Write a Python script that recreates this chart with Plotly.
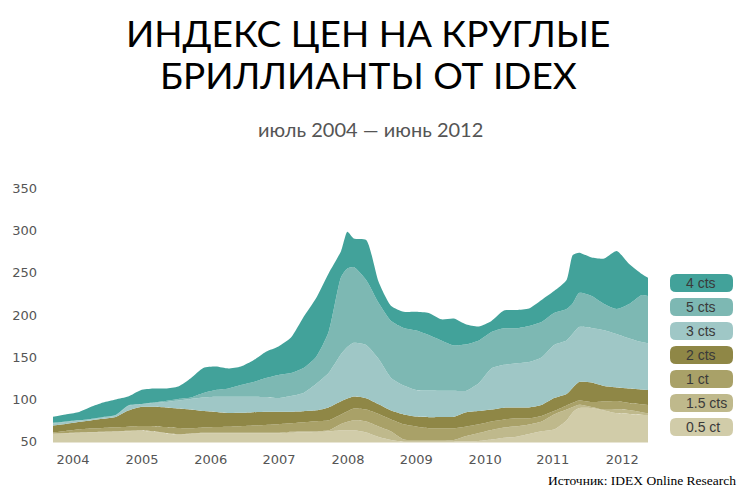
import plotly.graph_objects as go

# ---------------- DATA ----------------
# month index from July 2004 (0) to June 2012 (95)
months = [0, 2, 4, 6, 8, 10, 12, 14, 16, 18, 20, 22, 24, 26, 28, 30, 32, 34, 36, 38, 40, 42, 44, 46, 47,
          48, 50, 52, 54, 56, 58, 60, 62, 64, 66, 68, 70, 72, 74, 76, 78, 80, 82, 83, 84, 86, 88, 90, 92, 94, 95]

# upper edge of each stacked layer (index scale)
top_05ct = [59.1, 59.7, 60.3, 60.8, 61.2, 61.7, 62.3, 62.9, 61.7, 59.7, 58.2, 59.1, 59.9, 59.9, 59.9, 59.9, 59.9,
            59.9, 59.9, 60.5, 61.1, 61.6, 62.1, 63.5, 63.5, 63.5, 60.9, 55.6, 52.0, 50.0, 50.0, 50.0, 50.0, 50.0,
            50.1, 50.8, 52.5, 54.6, 55.9, 59.1, 62.3, 64.4, 75.1, 85.0, 89.9, 89.9, 86.9, 83.6, 82.8, 82.0, 81.6]
top_15cts = [59.7, 60.3, 60.9, 61.4, 61.8, 62.3, 62.9, 63.5, 62.3, 60.3, 58.8, 59.7, 60.5, 60.5, 60.5, 60.5, 60.5,
             60.5, 60.5, 61.7, 62.0, 62.3, 63.5, 71.0, 73.5, 75.3, 73.9, 68.0, 62.1, 52.6, 52.0, 52.0, 52.0, 52.0,
             56.7, 60.3, 63.9, 66.8, 68.2, 70.4, 73.9, 82.2, 88.1, 91.0, 93.7, 91.1, 87.8, 88.1, 87.5, 84.8, 83.6]
top_1ct = [60.9, 62.7, 64.4, 65.5, 66.2, 67.0, 67.8, 68.6, 68.4, 67.4, 66.2, 65.9, 66.8, 67.4, 67.8, 68.4, 69.2,
           69.9, 70.7, 71.7, 72.9, 74.1, 75.3, 82.2, 86.0, 89.3, 88.1, 82.8, 76.3, 70.6, 68.0, 66.0, 65.9, 65.9,
           68.0, 70.6, 73.9, 76.3, 77.7, 77.7, 80.4, 86.3, 92.9, 96.0, 98.8, 97.0, 97.6, 98.2, 95.8, 94.3, 93.5]
top_2cts = [69.2, 71.0, 73.3, 75.1, 77.1, 79.2, 86.9, 91.1, 91.3, 90.5, 89.3, 88.1, 86.3, 85.2, 84.0, 84.2, 84.9,
            85.5, 85.5, 85.5, 86.1, 87.1, 90.6, 97.8, 101.0, 103.5, 101.5, 94.2, 86.8, 82.2, 79.7, 79.0, 79.2, 79.6,
            84.9, 86.3, 88.1, 90.3, 90.6, 90.6, 93.5, 101.7, 106.5, 114.0, 120.7, 120.1, 115.9, 114.2, 113.0, 111.8, 111.2]
top_3cts = [71.5, 73.3, 75.1, 76.3, 78.7, 81.0, 92.3, 94.6, 95.8, 97.0, 98.8, 100.6, 102.3, 103.2, 103.3, 103.3, 103.3,
            102.9, 101.7, 104.1, 107.7, 118.3, 131.3, 153.8, 162.0, 167.1, 164.5, 147.9, 125.4, 116.5, 111.2, 110.6,
            110.4, 110.4, 110.4, 119.5, 136.7, 141.0, 142.9, 144.4, 149.7, 164.5, 169.8, 178.0, 185.8, 184.6, 182.0,
            177.5, 172.2, 168.0, 166.5]
top_5cts = [72.5, 73.9, 75.3, 76.9, 79.2, 81.6, 92.9, 94.6, 96.4, 98.2, 100.6, 102.3, 107.7, 111.2, 113.0, 117.1, 120.7,
            125.4, 129.0, 131.3, 137.3, 150.3, 179.9, 245.0, 255.0, 256.8, 241.5, 214.2, 192.9, 184.7, 181.7, 176.4,
            169.9, 164.0, 165.3, 169.9, 179.9, 184.3, 184.3, 187.0, 191.7, 202.4, 207.1, 214.0, 226.1, 222.5, 213.0,
            207.1, 213.0, 223.7, 222.5]
top_4cts = [79.6, 82.2, 84.8, 91.1, 96.4, 100.0, 103.5, 111.0, 112.9, 113.0, 115.4, 125.2, 137.3, 139.0, 136.7, 139.0, 146.4,
            156.6, 162.8, 173.3, 197.6, 219.8, 249.2, 275.9, 298.5, 290.7, 288.8, 239.1, 210.7, 203.9, 203.9, 202.4,
            194.9, 195.9, 188.8, 186.4, 192.9, 205.3, 205.9, 207.7, 217.8, 228.4, 241.5, 271.1, 273.8, 268.1, 266.9,
            275.8, 260.4, 248.6, 244.0]

baseline = 49.0

series_names = ["0.5 ct", "1.5 cts", "1 ct", "2 cts", "3 cts", "5 cts", "4 cts"]
series_tops = [top_05ct, top_15cts, top_1ct, top_2cts, top_3cts, top_5cts, top_4cts]
series_colors = ["#d1cca9", "#bfb98c", "#a9a168", "#8f8746", "#9fc7c6", "#7db8b3", "#42a29a"]

legend_order = ["4 cts", "5 cts", "3 cts", "2 cts", "1 ct", "1.5 cts", "0.5 ct"]

year_labels = ["2004", "2005", "2006", "2007", "2008", "2009", "2010", "2011", "2012"]
year_positions = [3.2, 14.2, 25.2, 36.1, 47.1, 58.0, 69.0, 79.8, 90.9]
y_ticks = [50, 100, 150, 200, 250, 300, 350]

# ---------------- FIGURE ----------------
W, H = 756, 497
L, R, T, B = 44, 96, 180, 47
PW, PH = W - L - R, H - T - B


def px_x(px):
    return (px - L) / PW


def px_y(py):
    return (H - B - py) / PH


fig = go.Figure()
fig.add_trace(go.Scatter(x=months, y=[baseline] * len(months), mode="lines",
                         line=dict(width=0), hoverinfo="skip", showlegend=False))
for name, top, col in zip(series_names, series_tops, series_colors):
    fig.add_trace(go.Scatter(x=months, y=top, name=name, mode="lines",
                             line=dict(width=0, shape="spline", smoothing=0.6),
                             fill="tonexty", fillcolor=col, showlegend=False))

shapes = []
annotations = []
color_of = dict(zip(series_names, series_colors))
pill_w, pill_h, rad = 63, 18, 6
for i, name in enumerate(legend_order):
    cy = 283 + 24 * i
    x0, x1 = px_x(670), px_x(670 + pill_w)
    y0, y1 = px_y(cy + pill_h / 2), px_y(cy - pill_h / 2)
    rx, ry = rad / PW, rad / PH
    path = (f"M{x0+rx},{y0} L{x1-rx},{y0} Q{x1},{y0} {x1},{y0+ry} L{x1},{y1-ry} Q{x1},{y1} {x1-rx},{y1} "
            f"L{x0+rx},{y1} Q{x0},{y1} {x0},{y1-ry} L{x0},{y0+ry} Q{x0},{y0} {x0+rx},{y0} Z")
    shapes.append(dict(type="path", xref="paper", yref="paper", path=path,
                       fillcolor=color_of[name], line=dict(width=0), layer="above"))
    annotations.append(dict(x=px_x(684), y=px_y(cy), xref="paper", yref="paper", text=name,
                            showarrow=False, xanchor="left", yanchor="middle",
                            font=dict(family="Liberation Sans, Arial, sans-serif", size=14, color="#3a3a3a")))

annotations.append(dict(x=px_x(368), y=px_y(32), xref="paper", yref="paper",
                        text="ИНДЕКС ЦЕН НА КРУГЛЫЕ", showarrow=False, xanchor="center", yanchor="middle",
                        font=dict(family="Lato, Liberation Sans, sans-serif", size=37, color="#000000")))
annotations.append(dict(x=px_x(368), y=px_y(74), xref="paper", yref="paper",
                        text="БРИЛЛИАНТЫ ОТ IDEX", showarrow=False, xanchor="center", yanchor="middle",
                        font=dict(family="Lato, Liberation Sans, sans-serif", size=37, color="#000000")))
annotations.append(dict(x=px_x(370), y=px_y(129), xref="paper", yref="paper",
                        text="июль 2004 — июнь 2012", showarrow=False, xanchor="center", yanchor="middle",
                        font=dict(family="Lato, Liberation Sans, sans-serif", size=20, color="#555555")))
annotations.append(dict(x=px_x(738), y=px_y(480), xref="paper", yref="paper",
                        text="Источник: IDEX Online Research", showarrow=False, xanchor="right", yanchor="middle",
                        font=dict(family="Liberation Serif, Times New Roman, serif", size=13.5, color="#000000")))

x0_px, px_per_month = 53, (648 - 53) / 95
fig.update_layout(
    width=W, height=H,
    margin=dict(l=L, r=R, t=T, b=B),
    paper_bgcolor="white", plot_bgcolor="white",
    shapes=shapes, annotations=annotations,
    showlegend=False,
    xaxis=dict(range=[(L - x0_px) / px_per_month, (L + PW - x0_px) / px_per_month],
               tickvals=year_positions, ticktext=year_labels, showgrid=False, zeroline=False,
               showline=False, ticks="", fixedrange=True,
               tickfont=dict(family="DejaVu Sans, Verdana, sans-serif", size=13, color="#555555")),
    yaxis=dict(range=[40.17, 359.83], tickvals=y_ticks, showgrid=False, zeroline=False,
               showline=False, ticks="", ticklabelstandoff=6, fixedrange=True,
               tickfont=dict(family="DejaVu Sans, Verdana, sans-serif", size=13, color="#555555")),
)

fig.write_html("out.html")
